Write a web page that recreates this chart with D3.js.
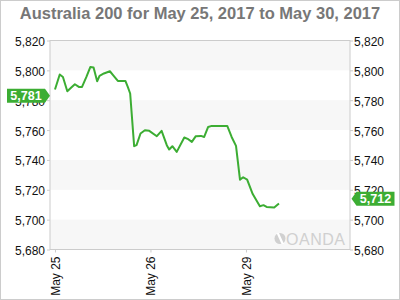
<!DOCTYPE html>
<html>
<head>
<meta charset="utf-8">
<script src="https://cdn.jsdelivr.net/npm/d3@7"></script>
<style>
  html, body { margin: 0; padding: 0; background: #fff; }
  svg { display: block; font-family: 'Liberation Sans', Arial, sans-serif; }
</style>
</head>
<body>
<svg id="chart" width="400" height="300"></svg>
<script>
// hours since May 25 00:00, trading time (weekend skipped)
const hours = [0, 1.2, 2.0, 3.1, 4.1, 5.0, 6.0, 6.8, 7.9, 8.9,
  9.7, 10.6, 11.2, 12.3, 13.8, 14.6, 15.8, 17.7, 18.3, 18.9,
  19.9, 20.5, 21.5, 22.6, 23.7, 25.6, 26.8, 28.1, 28.7, 29.5,
  30.6, 32.5, 33.5, 34.4, 35.4, 36.7, 37.5, 38.5, 39.4, 43.3,
  44.4, 45.5, 46.5, 47.3, 48.3, 49.7, 51.5, 52.4, 53.2, 55.1, 56.3];
const prices = [5787.2, 5797.2, 5795.6, 5786.0, 5788.5, 5790.7, 5788.9, 5788.9, 5795.6, 5802.3,
  5801.9, 5792.7, 5796.3, 5797.9, 5799.4, 5796.8, 5792.9, 5792.9, 5788.9, 5784.5,
  5749.2, 5749.9, 5757.7, 5759.9, 5759.5, 5755.9, 5759.5, 5749.9, 5747.0, 5749.2,
  5745.4, 5755.0, 5753.9, 5752.1, 5755.9, 5756.1, 5755.4, 5762.1, 5762.8, 5762.8,
  5755.4, 5749.4, 5726.8, 5728.4, 5726.8, 5717.1, 5709.0, 5709.7, 5708.5, 5708.1, 5710.8];
const dayHours = [0, 24, 48];
const dayLabels = ['May 25', 'May 26', 'May 29'];
const yTicks = [5680, 5700, 5720, 5740, 5760, 5780, 5800, 5820];
const openLabel = 5781;
const lastLabel = 5712;
const title = 'Australia 200 for May 25, 2017 to May 30, 2017';

const svg = d3.select('#chart');
const green = '#3cad33';
const fmt = d3.format(',');

const plotLeft = 50, plotRight = 350, plotTop = 40.5, plotBottom = 249.5;
const x = d3.scaleLinear().domain([-1.25, 74.15]).range([plotLeft, plotRight]);
const y = d3.scaleLinear().domain([5680, 5820]).range([plotBottom, plotTop]);

// outer frame
svg.append('rect')
  .attr('x', 0.5).attr('y', 0.5).attr('width', 399).attr('height', 299)
  .attr('fill', 'none').attr('stroke', '#ccc');

svg.append('text')
  .attr('x', 200).attr('y', 18.5)
  .attr('text-anchor', 'middle')
  .attr('font-size', 16.5).attr('font-weight', 'bold')
  .attr('fill', '#777')
  .text(title);

// alternating bands
const bands = d3.pairs(yTicks).filter((_, i) => i % 2 === 0);
svg.selectAll('rect.band')
  .data(bands)
  .join('rect')
  .attr('class', 'band')
  .attr('x', plotLeft).attr('width', plotRight - plotLeft)
  .attr('y', d => y(d[1])).attr('height', d => y(d[0]) - y(d[1]))
  .attr('fill', '#f7f7f7');

svg.append('rect')
  .attr('x', plotLeft).attr('y', plotTop)
  .attr('width', plotRight - plotLeft).attr('height', plotBottom - plotTop)
  .attr('fill', 'none').attr('stroke', '#ccc');

// y axes
const yLeft = d3.axisLeft(y).tickValues(yTicks).tickSize(3).tickPadding(2).tickFormat(fmt);
const yRight = d3.axisRight(y).tickValues(yTicks).tickSize(3).tickPadding(1).tickFormat(fmt);
[[yLeft, plotLeft], [yRight, plotRight]].forEach(([ax, pos]) => {
  const g = svg.append('g').attr('transform', `translate(${pos},0)`).call(ax);
  g.select('.domain').remove();
  g.selectAll('line').attr('stroke', '#ccc');
  g.selectAll('text')
    .attr('font-size', 12).attr('fill', '#111')
    .attr('font-family', "'Liberation Sans', Arial, sans-serif")
    .attr('dy', '0.42em');
});

// x axis
const xAxis = d3.axisBottom(x).tickValues(dayHours).tickSize(3)
  .tickFormat((_, i) => dayLabels[i]);
const gx = svg.append('g').attr('transform', `translate(0,${plotBottom})`).call(xAxis);
gx.select('.domain').remove();
gx.selectAll('line').attr('stroke', '#ccc');
gx.selectAll('text')
  .attr('font-size', 12).attr('fill', '#111')
  .attr('font-family', "'Liberation Sans', Arial, sans-serif")
  .attr('text-anchor', 'end')
  .attr('transform', 'rotate(-90)')
  .attr('x', -7).attr('y', 0).attr('dy', '0.35em');

// watermark
const wm = svg.append('g').attr('fill', '#d0d0d0');
wm.append('circle').attr('cx', 280).attr('cy', 238.5).attr('r', 5.5);
wm.append('path')
  .attr('d', 'M276.5,233 L279,233 L284,244 L281.5,244 Z')
  .attr('fill', '#fff');
wm.append('text')
  .attr('x', 286).attr('y', 244.5)
  .attr('font-size', 16).attr('textLength', 59)
  .text('OANDA');

// price line
const points = hours.map((h, i) => [h, prices[i]]);
svg.append('path')
  .datum(points)
  .attr('fill', 'none')
  .attr('stroke', green)
  .attr('stroke-width', 2)
  .attr('stroke-linejoin', 'round')
  .attr('d', d3.line().x(d => x(d[0])).y(d => y(d[1])));

// value badges
function badge(value, side) {
  const cy = y(value) - 3;
  const h = 14, w = 38, tip = 5;
  let d, tx;
  if (side === 'left') {
    const x0 = 7, x1 = x0 + w;
    d = `M${x0},${cy - h / 2} L${x1},${cy - h / 2} L${x1 + tip},${cy} L${x1},${cy + h / 2} L${x0},${cy + h / 2} Z`;
    tx = (x0 + x1) / 2;
  } else {
    const x0 = plotRight + 1.5, x1 = x0 + tip + w;
    d = `M${x0},${cy} L${x0 + tip},${cy - h / 2} L${x1},${cy - h / 2} L${x1},${cy + h / 2} L${x0 + tip},${cy + h / 2} Z`;
    tx = x0 + tip + w / 2;
  }
  svg.append('path').attr('d', d).attr('fill', green);
  svg.append('text')
    .attr('x', tx).attr('y', cy).attr('dy', '0.36em')
    .attr('text-anchor', 'middle')
    .attr('font-size', 12.5).attr('font-weight', 'bold')
    .attr('fill', '#fff')
    .text(fmt(value));
}
badge(openLabel, 'left');
badge(lastLabel, 'right');
</script>
</body>
</html>
